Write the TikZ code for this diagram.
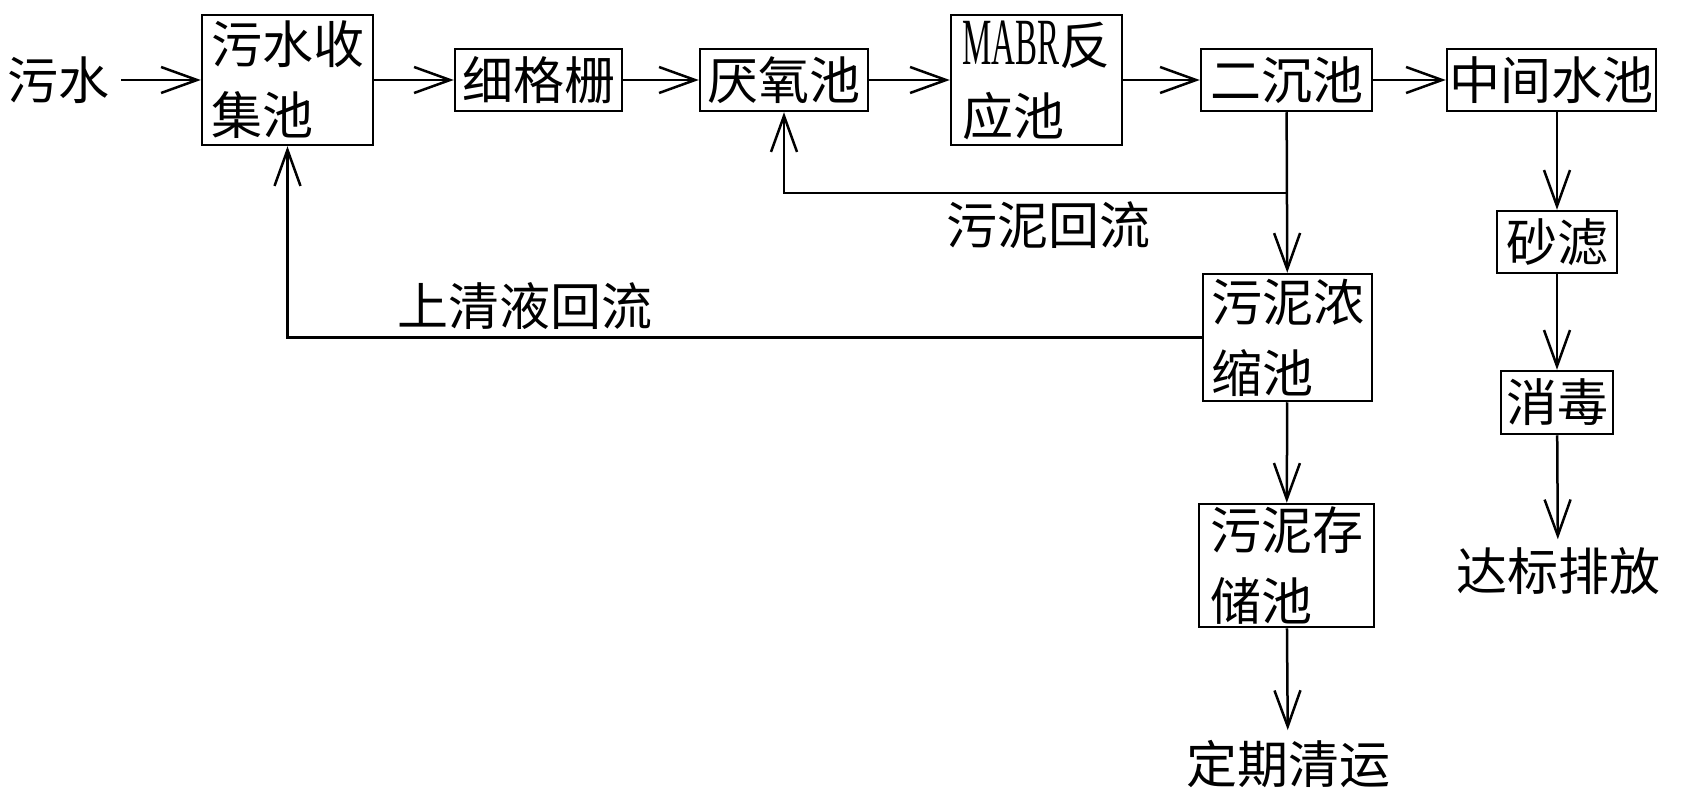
\documentclass[tikz,border=0pt]{standalone}
\usepackage{fontspec}
\usepackage{graphicx}
\setmainfont{Noto Sans CJK SC}
\newfontfamily\latinserif{Liberation Serif}
\usetikzlibrary{arrows.meta}
\begin{document}
\begin{tikzpicture}[x=1pt,y=-1pt,
  every node/.style={font=\fontsize{51}{71}\selectfont, inner sep=0pt},
  proc/.style={draw, line width=2.5pt, align=left},
  arr/.style={line width=2.5pt, -{Straight Barb[length=36pt,width=26pt]}},
  ln/.style={line width=2.5pt}]
\useasboundingbox (0,0) rectangle (1681,797);
% main row
\node (wushui) at (58,80) {污水};
\node[proc, minimum width=171pt, minimum height=130pt] (c1) at (287.5,80) {污水收\\集池};
\node[proc, minimum width=167pt, minimum height=62pt] (xgs) at (538.5,80) {细格栅};
\node[proc, minimum width=168pt, minimum height=62pt] (yyc) at (784,80) {厌氧池};
\node[proc, minimum width=171pt, minimum height=130pt] (mabr) at (1036.5,80) {\scalebox{0.5}[1]{\fontsize{66}{66}\latinserif MABR}反\\应池};
\node[proc, minimum width=171pt, minimum height=62pt] (ecc) at (1286.5,80) {二沉池};
\node[proc, minimum width=209pt, minimum height=62pt] (zj) at (1551.5,80) {中间水池};
% sludge branch
\node[proc, minimum width=169pt, minimum height=127pt] (nsc) at (1287.5,337.5) {污泥浓\\缩池};
\node[proc, minimum width=175pt, minimum height=123pt] (ccc) at (1286.5,565.5) {污泥存\\储池};
\node (dqqy) at (1288,764) {定期清运};
% water branch
\node[proc, minimum width=120pt, minimum height=62pt] (sl) at (1557,242) {砂滤};
\node[proc, minimum width=112pt, minimum height=63pt] (xd) at (1557,402.5) {消毒};
\node (dbpf) at (1558,571) {达标排放};
% labels
\node (lbhn) at (1048,225) {污泥回流};
\node (lbsq) at (525,306) {上清液回流};
% connectors
\draw[arr, shorten <=12pt] (wushui) -- (c1);
\draw[arr] (c1) -- (xgs);
\draw[arr] (xgs) -- (yyc);
\draw[arr] (yyc) -- (mabr);
\draw[arr] (mabr) -- (ecc);
\draw[arr] (ecc) -- (zj);
\draw[arr] (ecc) -- (nsc);
\coordinate (j1) at (1287,193);
\draw[arr] (j1) -| (yyc.south);
\draw[arr] (nsc.west) -| (c1.south);
\draw[arr] (nsc) -- (ccc);
\draw[arr, shorten >=10pt] (ccc) -- (dqqy);
\draw[arr] (zj.south -| sl) -- (sl);
\draw[arr] (sl) -- (xd);
\draw[arr, shorten >=8pt] (xd) -- (dbpf);
\end{tikzpicture}
\end{document}
